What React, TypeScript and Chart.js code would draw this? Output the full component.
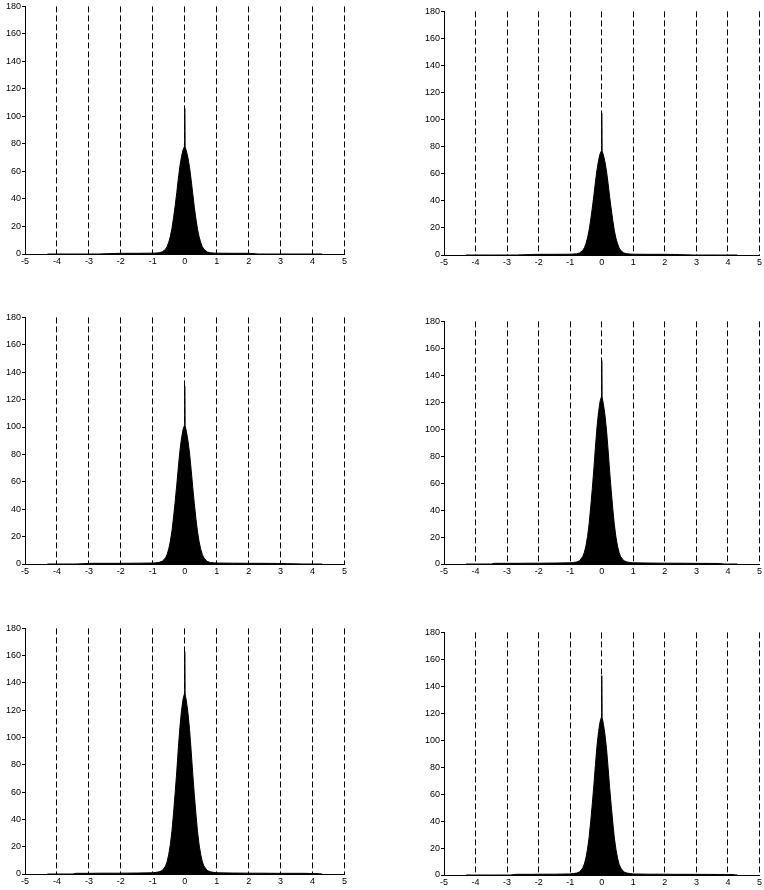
import React, { useEffect, useRef } from "react";
import { Chart, registerables } from "chart.js";

Chart.register(...registerables);

// Bin centres (x value) shared by all six histograms
const BIN_X = [
  -4.3, -3.5, -3.4, -2.9, -2.7, -2.2, -2.0, -1.5, -1.0, -0.9, -0.8, -0.7, -0.6, -0.55, -0.5, -0.45, -0.4,
  -0.35, -0.3, -0.25, -0.2, -0.15, -0.1, -0.05, -0.01, 0, 0.01, 0.05, 0.1, 0.15, 0.2, 0.25, 0.3, 0.35, 0.4,
  0.45, 0.5, 0.55, 0.6, 0.7, 0.8, 0.9, 1.0, 1.5, 2.0, 2.3, 2.9, 3.7, 3.9, 4.1, 4.3,
];

// Counts per bin for each panel (row by row, left to right)
const HIST_1 = [
  0, 0, 0, 0, 0, 0.4, 0.5, 0.5, 0.6, 0.7, 0.9, 1.6, 3.5, 5.5, 8.6, 12.9, 18.7,
  26.5, 35, 44.5, 55, 64, 71, 76, 78, 106, 78, 75, 70, 63, 54, 44, 34, 25.5, 18,
  12.4, 8.3, 5.3, 3.4, 1.5, 0.9, 0.7, 0.6, 0.5, 0.5, 0, 0, 0, 0, 0, 0,
];
const HIST_2 = [
  0, 0, 0, 0, 0, 0.4, 0.5, 0.5, 0.6, 0.7, 0.9, 1.5, 3.5, 5.4, 8.5, 12.7, 18.5,
  26, 34.7, 44, 54, 63, 70, 75, 77, 105, 77, 74, 69, 62, 53, 43, 34, 25.5, 18,
  12.4, 8.3, 5.3, 3.4, 1.5, 0.9, 0.7, 0.6, 0.5, 0.5, 0.4, 0, 0, 0, 0, 0,
];
const HIST_3 = [
  0, 0, 0, 0.5, 0.5, 0.5, 0.5, 0.6, 0.7, 0.9, 1.2, 2.0, 4.5, 7.1, 11.1, 16.7, 24.2,
  34.3, 45.5, 57.6, 70.7, 83, 92, 98.5, 101, 130, 101, 97, 90, 81, 69, 56, 44, 33, 23.5,
  16.2, 10.8, 6.9, 4.4, 1.9, 1.1, 0.9, 0.7, 0.6, 0.5, 0.5, 0.4, 0, 0, 0, 0,
];
const HIST_4 = [
  0, 0, 0.5, 0.5, 0.5, 0.6, 0.6, 0.7, 0.9, 1.1, 1.5, 2.5, 5.6, 8.7, 13.6, 20.5, 29.8,
  42.2, 55.8, 70.7, 86.8, 101.7, 113, 121, 124, 151, 124, 119, 111, 99.5, 85, 69, 54.5, 41, 29,
  20, 13.2, 8.5, 5.4, 2.4, 1.5, 1.1, 0.9, 0.7, 0.6, 0.6, 0.5, 0.4, 0, 0, 0,
];
const HIST_5 = [
  0, 0, 0.5, 0.5, 0.6, 0.6, 0.6, 0.7, 0.9, 1.2, 1.6, 2.6, 5.9, 9.2, 14.5, 21.8, 31.7,
  44.9, 59.4, 75.2, 92.4, 108, 120, 128.7, 132, 163, 132, 127, 118, 106, 90.5, 73.5, 58, 44, 31,
  21.3, 14.2, 9, 5.8, 2.6, 1.6, 1.2, 0.9, 0.7, 0.6, 0.6, 0.5, 0.5, 0.4, 0.4, 0,
];
const HIST_6 = [
  0, 0, 0, 0, 0.5, 0.5, 0.6, 0.6, 0.8, 1.1, 1.4, 2.3, 5.3, 8.2, 12.9, 19.3, 28.1,
  39.8, 52.7, 66.7, 81.9, 96, 106.5, 114, 117, 148, 117, 112.5, 104.5, 94, 80, 65, 51.5, 39, 27.5,
  19, 12.6, 8, 5.2, 2.3, 1.4, 1.1, 0.8, 0.6, 0.6, 0.5, 0.5, 0.4, 0.4, 0.4, 0,
];

const X_MIN = -5;
const X_MAX = 5;
const X_STEP = 1;
const Y_MIN = 0;
const Y_MAX = 180;
const Y_STEP = 20;

// Layout (page pixels): y-axis x, x=5 position, top (180) and bottom (0)
const PANELS = [
  { values: HIST_1, axisLeft: 25, axisRight: 346, top: 6, bottom: 254 },
  { values: HIST_2, axisLeft: 444, axisRight: 761, top: 11, bottom: 255 },
  { values: HIST_3, axisLeft: 25, axisRight: 346, top: 317, bottom: 564 },
  { values: HIST_4, axisLeft: 444, axisRight: 761, top: 321, bottom: 564 },
  { values: HIST_5, axisLeft: 25, axisRight: 346, top: 628, bottom: 874 },
  { values: HIST_6, axisLeft: 444, axisRight: 761, top: 632, bottom: 875 },
];

const Y_AXIS_W = 25;
const X_AXIS_H = 16;
const PAD_TOP = 6;
const PAD_RIGHT = 3;
const FONT = { family: "'Liberation Sans', Arial, Helvetica, sans-serif", size: 9 };

function Panel({ values, axisLeft, axisRight, top, bottom }: any) {
  const ref = useRef<HTMLCanvasElement | null>(null);
  const width = axisRight - axisLeft + Y_AXIS_W + PAD_RIGHT;
  const height = bottom - top + PAD_TOP + X_AXIS_H;

  useEffect(() => {
    if (!ref.current) return;
    const chart = new Chart(ref.current, {
      type: "line",
      data: {
        datasets: [
          {
            data: BIN_X.map((x, i) => ({ x, y: values[i] })),
            fill: "origin",
            backgroundColor: "#000",
            borderColor: "#000",
            borderWidth: 1,
            pointRadius: 0,
            tension: 0,
          },
        ],
      },
      options: {
        responsive: false,
        animation: false,
        devicePixelRatio: 1,
        events: [],
        layout: { padding: { top: PAD_TOP, right: PAD_RIGHT, left: 0, bottom: 0 } },
        plugins: { legend: { display: false }, tooltip: { enabled: false } },
        scales: {
          x: {
            type: "linear",
            min: X_MIN,
            max: X_MAX,
            afterFit: (s: any) => {
              s.height = X_AXIS_H;
            },
            ticks: {
              stepSize: X_STEP,
              color: "#000",
              font: FONT,
              padding: 2,
              maxRotation: 0,
              autoSkip: false,
            },
            grid: {
              display: true,
              color: "#000",
              lineWidth: 1,
              drawTicks: false,
              drawOnChartArea: true,
              borderDash: [6, 3],
            } as any,
            border: { display: true, color: "#000", width: 1, dash: [6, 3] },
          },
          y: {
            type: "linear",
            min: Y_MIN,
            max: Y_MAX,
            afterFit: (s: any) => {
              s.width = Y_AXIS_W;
            },
            ticks: { stepSize: Y_STEP, color: "#000", font: FONT, padding: 1 },
            grid: {
              display: true,
              drawOnChartArea: false,
              drawTicks: true,
              tickLength: 3,
              color: "#000",
            },
            border: { display: true, color: "#000", width: 1 },
          },
        },
      },
    } as any);
    return () => chart.destroy();
  }, [values]);

  return (
    <canvas
      ref={ref}
      width={width}
      height={height}
      style={{
        position: "absolute",
        left: axisLeft - Y_AXIS_W,
        top: top - PAD_TOP,
        width,
        height,
      }}
    />
  );
}

export default function App() {
  return (
    <div
      style={{
        position: "absolute",
        left: 0,
        top: 0,
        width: 764,
        height: 890,
        background: "#fff",
        overflow: "hidden",
      }}
    >
      {PANELS.map((p, i) => (
        <Panel key={i} {...p} />
      ))}
    </div>
  );
}
